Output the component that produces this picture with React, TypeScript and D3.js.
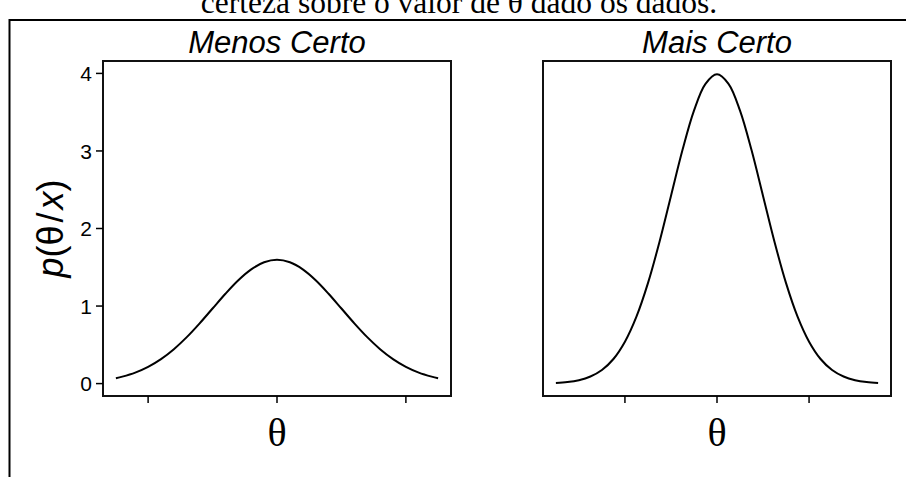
import React from 'react'
import * as d3 from 'd3'

// theta / density pairs
const lessTheta = [-0.625, -0.6, -0.55, -0.5, -0.45, -0.4, -0.35, -0.3, -0.25, -0.2, -0.15, -0.1, -0.05, 0,
  0.05, 0.1, 0.15, 0.2, 0.25, 0.3, 0.35, 0.4, 0.45, 0.5, 0.55, 0.6, 0.625]
const lessDens = [0.07, 0.09, 0.142, 0.216, 0.316, 0.444, 0.599, 0.777, 0.968, 1.159, 1.333, 1.473, 1.564, 1.596,
  1.564, 1.473, 1.333, 1.159, 0.968, 0.777, 0.599, 0.444, 0.316, 0.216, 0.142, 0.09, 0.07]

const moreTheta = [-0.35, -0.325, -0.3, -0.275, -0.25, -0.225, -0.2, -0.175, -0.15, -0.125, -0.1, -0.075, -0.05, -0.025, 0,
  0.025, 0.05, 0.075, 0.1, 0.125, 0.15, 0.175, 0.2, 0.225, 0.25, 0.275, 0.3, 0.325, 0.35]
const moreDens = [0.009, 0.02, 0.044, 0.091, 0.175, 0.317, 0.54, 0.863, 1.295, 1.826, 2.42, 3.011, 3.52, 3.866, 3.989,
  3.866, 3.52, 3.011, 2.42, 1.826, 1.295, 0.863, 0.54, 0.317, 0.175, 0.091, 0.044, 0.02, 0.009]

const yTicks = [0, 1, 2, 3, 4]
const lessXTicks = [-0.5, 0, 0.5]
const moreXTicks = [-0.2, 0, 0.2]

const panels = [
  { title: 'Menos Certo', theta: lessTheta, dens: lessDens, ticks: lessXTicks, left: 103, half: 0.625 },
  { title: 'Mais Certo', theta: moreTheta, dens: moreDens, ticks: moreXTicks, left: 543, half: 0.35 },
]

const W = 906
const H = 477
const pw = 348
const top = 61
const bottom = 396
const sans = '"Liberation Sans", Arial, sans-serif'
const serif = '"Liberation Serif", "Times New Roman", serif'

export default function App() {
  const y = d3.scaleLinear().domain([-0.16, 4.16]).range([bottom, top])

  return (
    <svg width={W} height={H} style={{ position: 'absolute', left: 0, top: 0, background: '#fff' }}>
      <text x={459} y={13} textAnchor="middle" fontFamily={serif} fontSize={31.5}>
        certeza sobre o valor de θ dado os dados.
      </text>
      <path d={`M9.5,${H} V20 H${W}`} fill="none" stroke="#000" strokeWidth={2} />

      {panels.map((p, i) => {
        const x = d3.scaleLinear().domain([-p.half * 1.08, p.half * 1.08]).range([p.left, p.left + pw])
        const line = d3.line<number>()
          .x((_, k) => x(p.theta[k]))
          .y(d => y(d))
          .curve(d3.curveCatmullRom)
        const cx = p.left + pw / 2
        return (
          <g key={i}>
            <text x={cx} y={53} textAnchor="middle" fontFamily={sans} fontStyle="italic" fontSize={31}>{p.title}</text>
            <rect x={p.left} y={top} width={pw} height={bottom - top} fill="none" stroke="#111" strokeWidth={2} />
            <path d={line(p.dens) || ''} fill="none" stroke="#000" strokeWidth={2} />
            {p.ticks.map(t => (
              <line key={t} x1={x(t)} x2={x(t)} y1={bottom} y2={bottom + 7} stroke="#000" strokeWidth={1.5} />
            ))}
            <text x={cx} y={446} textAnchor="middle" fontFamily={serif} fontSize={40}>θ</text>
            {i === 0 && yTicks.map(t => (
              <g key={t}>
                <line x1={p.left - 7} x2={p.left} y1={y(t)} y2={y(t)} stroke="#000" strokeWidth={1.5} />
                <text x={92} y={y(t)} dy="0.36em" textAnchor="end" fontFamily={sans} fontSize={21}>{t}</text>
              </g>
            ))}
          </g>
        )
      })}

      <text transform={`translate(63,${(top + bottom) / 2}) rotate(-90)`} textAnchor="middle" fontFamily={sans} fontSize={36}>
        <tspan fontStyle="italic">p</tspan>(θ<tspan dx={3}>/</tspan><tspan fontStyle="italic" dx={3}>x</tspan>)
      </text>
    </svg>
  )
}
